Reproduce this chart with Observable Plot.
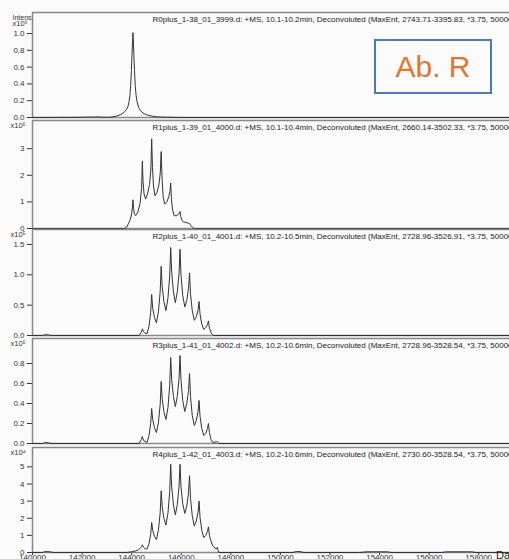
<!DOCTYPE html>
<html><head><meta charset="utf-8">
<script src="https://cdn.jsdelivr.net/npm/d3@7"></script>
<script src="https://cdn.jsdelivr.net/npm/@observablehq/plot@0.6"></script>
<style>
html,body{margin:0;padding:0;background:#fbfbfb;overflow:hidden;}
#wrap{position:relative;width:509px;height:559px;overflow:hidden;font-family:"Liberation Sans",Arial,sans-serif;}
#wrap svg{position:absolute;left:0;max-width:none !important;}
.badge{position:absolute;left:374px;top:39px;width:114px;height:51px;border:2px solid #4a78c2;display:flex;align-items:center;justify-content:center;color:#e8742c;font-size:30px;font-family:"Liberation Sans",Arial,sans-serif;}
.unit{position:absolute;left:496px;top:549px;font-size:11px;color:#222;font-family:"Liberation Sans",Arial,sans-serif;}
</style></head><body><div id="wrap"></div>
<script>
// ---- data ----
const massDomain = [140000, 161300];
const massTicks = [140000, 142000, 144000, 146000, 148000, 150000, 152000, 154000, 156000, 158000];
const panelTitles = [
  "R0plus_1-38_01_3999.d: +MS, 10.1-10.2min, Deconvoluted (MaxEnt, 2743.71-3395.83, *3.75, 50000)",
  "R1plus_1-39_01_4000.d: +MS, 10.1-10.4min, Deconvoluted (MaxEnt, 2660.14-3502.33, *3.75, 50000)",
  "R2plus_1-40_01_4001.d: +MS, 10.2-10.5min, Deconvoluted (MaxEnt, 2728.96-3526.91, *3.75, 50000)",
  "R3plus_1-41_01_4002.d: +MS, 10.2-10.6min, Deconvoluted (MaxEnt, 2728.96-3528.54, *3.75, 50000)",
  "R4plus_1-42_01_4003.d: +MS, 10.2-10.6min, Deconvoluted (MaxEnt, 2730.60-3528.54, *3.75, 50000)"
];
const panelExponents = ["⁶", "⁵", "⁵", "⁵", "⁴"];
const yTicksR0 = [0, 0.2, 0.4, 0.6, 0.8, 1.0];
const yTicksR1 = [0, 1, 2, 3];
const yTicksR2 = [0, 0.5, 1.0, 1.5];
const yTicksR3 = [0, 0.2, 0.4, 0.6, 0.8];
const yTicksR4 = [0, 1, 2, 3, 4, 5];
const yMax = [1.25, 4.06, 1.746, 1.05, 6.13];
const badgeText = "Ab. R";
const massUnit = "Da";

const spectrumR0 = [[140000,0],[141000,0.001],[142100,0.003],[142250,0.006],[142450,0.004],[142650,0.007],[142850,0.003],[143050,0.002],[143250,0.008],[143400,0.018],[143550,0.034],[143680,0.058],[143780,0.09],[143850,0.13],[143895,0.19],[143930,0.26],[143960,0.38],[143990,0.56],[144015,0.76],[144040,0.95],[144052,1.01],[144065,0.93],[144090,0.74],[144114,0.56],[144145,0.38],[144180,0.26],[144215,0.19],[144280,0.12],[144370,0.075],[144500,0.045],[144650,0.028],[144800,0.017],[145000,0.009],[145200,0.005],[145450,0.003],[145800,0.001],[146200,0],[160000,0]];

const spectrumR1 = [[140000,0],[143700,0],[143800,0.05],[143880,0.2],[143950,0.35],[144000,0.55],[144030,0.8],[144052,1.08],[144075,0.75],[144110,0.55],[144161,0.48],[144250,0.62],[144340,0.95],[144400,1.5],[144432,2.53],[144460,1.75],[144500,1.3],[144565,1.11],[144640,1.3],[144720,1.65],[144775,2.2],[144808,3.37],[144840,2.3],[144880,1.6],[144941,1.23],[145020,1.35],[145100,1.65],[145155,2.1],[145191,2.89],[145225,1.9],[145270,1.2],[145333,0.92],[145420,1.0],[145500,1.2],[145545,1.4],[145575,1.71],[145605,1.1],[145650,0.7],[145716,0.48],[145800,0.48],[145880,0.52],[145925,0.58],[145951,0.64],[145980,0.45],[146030,0.3],[146088,0.25],[146200,0.22],[146290,0.2],[146335,0.19],[146380,0.12],[146450,0.05],[146517,0],[160000,0]];

const spectrumR2 = [[140000,0],[140400,0],[140500,0.012],[140650,0.01],[140750,0],[144300,0],[144380,0.05],[144410,0.08],[144432,0.11],[144470,0.07],[144530,0.04],[144620,0.03],[144700,0.15],[144768,0.38],[144808,0.675],[144848,0.45],[144918,0.3],[145000,0.21],[145081,0.4],[145151,0.72],[145191,1.14],[145231,0.81],[145301,0.56],[145383,0.41],[145465,0.62],[145535,0.98],[145575,1.45],[145615,1.04],[145685,0.72],[145763,0.54],[145841,0.72],[145911,1.02],[145951,1.42],[145991,0.99],[146061,0.66],[146143,0.47],[146225,0.58],[146295,0.78],[146335,1.03],[146375,0.68],[146445,0.41],[146527,0.25],[146609,0.31],[146679,0.42],[146719,0.56],[146759,0.35],[146829,0.19],[146908,0.1],[146988,0.13],[147058,0.18],[147098,0.24],[147138,0.12],[147210,0.04],[147300,0],[160000,0]];

const spectrumR3 = [[140000,0],[140400,0],[140500,0.008],[140650,0.007],[140750,0],[144300,0],[144390,0.04],[144432,0.07],[144480,0.03],[144620,0.01],[144700,0.08],[144768,0.2],[144808,0.35],[144848,0.24],[144918,0.16],[145000,0.11],[145081,0.21],[145151,0.39],[145191,0.62],[145231,0.45],[145301,0.32],[145383,0.24],[145465,0.36],[145535,0.58],[145575,0.86],[145615,0.64],[145685,0.47],[145763,0.37],[145841,0.47],[145911,0.65],[145951,0.88],[145991,0.63],[146061,0.43],[146143,0.32],[146225,0.4],[146295,0.53],[146335,0.7],[146375,0.47],[146445,0.28],[146527,0.18],[146609,0.23],[146679,0.32],[146719,0.43],[146759,0.27],[146829,0.15],[146908,0.08],[146988,0.1],[147058,0.15],[147098,0.2],[147138,0.11],[147200,0.04],[147272,0.01],[147420,0.015],[147454,0.02],[147490,0.01],[147520,0],[160000,0]];

const spectrumR4 = [[140000,0],[140400,0],[140500,0.05],[140700,0.04],[140850,0],[143800,0],[144000,0.04],[144150,0.09],[144280,0.17],[144360,0.28],[144400,0.36],[144432,0.45],[144470,0.32],[144540,0.22],[144620,0.2],[144700,0.51],[144768,1.05],[144808,1.75],[144848,1.3],[144918,0.95],[145000,0.75],[145081,1.32],[145151,2.32],[145191,3.6],[145231,2.7],[145301,2.0],[145383,1.6],[145465,2.31],[145535,3.55],[145575,5.15],[145615,3.82],[145685,2.79],[145763,2.2],[145841,2.79],[145911,3.82],[145951,5.15],[145991,3.86],[146061,2.85],[146143,2.28],[146225,2.72],[146295,3.49],[146335,4.48],[146375,3.16],[146445,2.14],[146527,1.55],[146609,1.84],[146679,2.35],[146719,3.0],[146759,2.04],[146829,1.3],[146908,0.87],[146988,1.0],[147058,1.22],[147098,1.5],[147138,1.0],[147210,0.62],[147272,0.4],[147400,0.2],[147454,0.3],[147490,0.12],[147520,0],[150500,0],[150650,0.06],[150800,0.05],[150950,0],[153200,0],[153500,0.04],[154300,0.04],[154500,0],[156500,0],[156700,0.04],[157700,0.04],[157900,0],[160000,0]];

const spectra = [spectrumR0, spectrumR1, spectrumR2, spectrumR3, spectrumR4];
const yTicks = [yTicksR0, yTicksR1, yTicksR2, yTicksR3, yTicksR4];
const yFormats = [".1f", "d", ".1f", ".1f", "d"];

// ---- layout ----
const layout = [
  {top: 12, base: 117},
  {top: 120, base: 228},
  {top: 229, base: 335},
  {top: 338, base: 443},
  {top: 447, base: 552}
];
const wrap = document.getElementById("wrap");
const font = "Liberation Sans, Arial, sans-serif";

spectra.forEach((data, i) => {
  const last = i === spectra.length - 1;
  const {top, base} = layout[i];
  const mt = 12, mb = last ? 22 : 8;
  const marks = [
    Plot.frame({stroke: "#888", strokeWidth: 1.5}),
    Plot.line(data, {x: d => d[0], y: d => d[1], stroke: "#333", strokeWidth: 1}),
    Plot.text([panelTitles[i]], {frameAnchor: "top-left", dx: 120, dy: 3.8, textAnchor: "start", fontSize: 8, fill: "#222"})
  ];
  if (i === 0) {
    marks.push(Plot.text(["Intens."], {frameAnchor: "top-left", dx: -20, dy: 2.5, textAnchor: "start", fontSize: 7, fill: "#333"}));
    marks.push(Plot.text(["x10" + panelExponents[i]], {frameAnchor: "top-left", dx: -20, dy: 8.5, textAnchor: "start", fontSize: 7.5, fill: "#333"}));
  } else {
    marks.push(Plot.text(["x10" + panelExponents[i]], {frameAnchor: "top-left", dx: -22, dy: 2.3, textAnchor: "start", fontSize: 7.5, fill: "#333"}));
  }
  const svg = Plot.plot({
    width: 560,
    height: mt + (base - top) + mb,
    marginLeft: 32, marginRight: 0, marginTop: mt, marginBottom: mb,
    style: {background: "transparent", fontFamily: font, fontSize: "8px", color: "#333", overflow: "visible", maxWidth: "none"},
    x: {domain: massDomain, ticks: massTicks, tickFormat: "d", tickSize: 3, tickPadding: -1, label: null, axis: last ? "bottom" : null},
    y: {domain: [0, yMax[i]], ticks: yTicks[i], tickFormat: yFormats[i], tickSize: 5, tickPadding: 3, label: null},
    marks
  });
  svg.style.position = "absolute";
  svg.style.top = (top - mt) + "px";
  svg.style.left = "0px";
  svg.style.maxWidth = "none";
  svg.style.width = "560px";
  wrap.appendChild(svg);
});

const badge = document.createElement("div");
badge.className = "badge";
badge.textContent = badgeText;
wrap.appendChild(badge);
const unit = document.createElement("div");
unit.className = "unit";
unit.textContent = massUnit;
wrap.appendChild(unit);
</script></body></html>
